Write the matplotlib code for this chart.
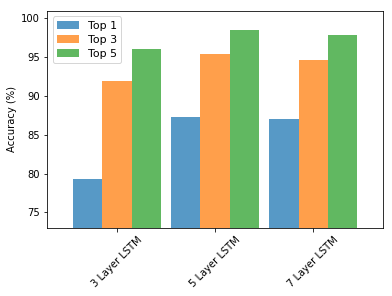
import numpy as np
import matplotlib
matplotlib.use("Agg")
import matplotlib.pyplot as plt

categorie = ["3 Layer LSTM", "5 Layer LSTM", "7 Layer LSTM"]
top1 = [79.3, 87.3, 87.05]
top3 = [91.9, 95.4, 94.6]
top5 = [96.1, 98.5, 97.85]

fig = plt.figure(figsize=(392 / 72, 296 / 72), dpi=72)
ax = fig.add_axes([0.12, 0.23, 0.857, 0.733])

x = np.arange(len(categorie))
w = 0.3
ax.bar(x - w, top1, w, label="Top 1", color="tab:blue", alpha=0.75)
ax.bar(x, top3, w, label="Top 3", color="tab:orange", alpha=0.75)
ax.bar(x + w, top5, w, label="Top 5", color="tab:green", alpha=0.75)

ax.set_xticks(x)
ax.set_xticklabels(categorie, rotation=45)
ax.set_xlim(-0.71, 2.71)
ax.set_ylim(73, 100.95)
ax.set_yticks([75, 80, 85, 90, 95, 100])
ax.set_ylabel("Accuracy (%)")
ax.legend(loc="upper left", fontsize=11, labelspacing=0.35)

fig.savefig("out.png", dpi=72)
